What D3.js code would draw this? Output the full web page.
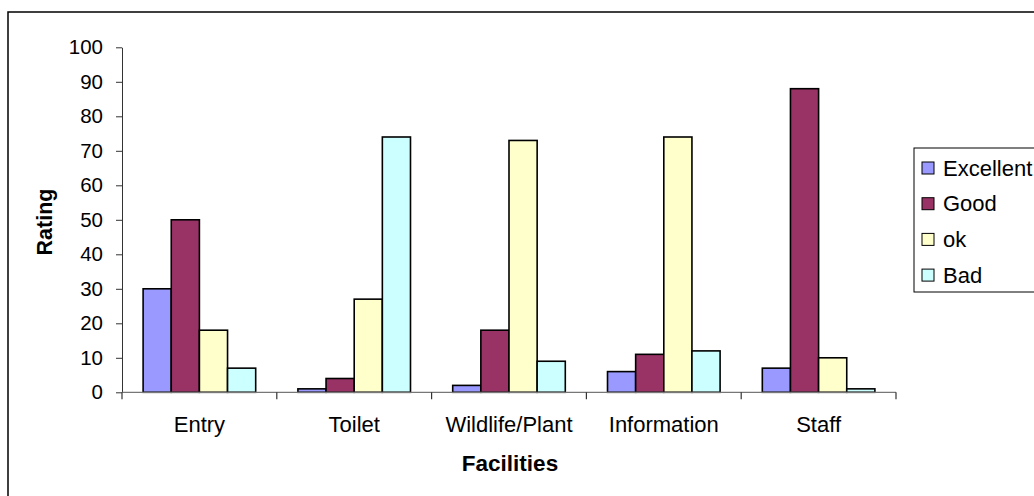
<!DOCTYPE html>
<html><head><meta charset="utf-8">
<script src="https://cdn.jsdelivr.net/npm/d3@7"></script>
<style>html,body{margin:0;padding:0;background:#fff;}svg{display:block;font-family:"Liberation Sans",Arial,sans-serif;}</style>
</head><body>
<svg id="c" width="1034" height="496"></svg>
<script>
const categories = ["Entry", "Toilet", "Wildlife/Plant", "Information", "Staff"];
const seriesNames = ["Excellent", "Good", "ok", "Bad"];
const excellent = [30, 1, 2, 6, 7];
const good = [50, 4, 18, 11, 88];
const ok = [18, 27, 73, 74, 10];
const bad = [7, 74, 9, 12, 1];
const yTicks = [0, 10, 20, 30, 40, 50, 60, 70, 80, 90, 100];
const colors = ["#9999FF", "#993366", "#FFFFCC", "#CCFFFF"];

(function () {
const seriesValues = [excellent, good, ok, bad];
const svg = d3.select("#c");

// outer border
svg.append("rect").attr("x", 8).attr("y", 12).attr("width", 1040).attr("height", 500)
  .attr("fill", "#fff").attr("stroke", "#000").attr("stroke-width", 1.5);

const pLeft = 122, pRight = 896, pTop = 47.3, pBottom = 392.3;
const x0 = d3.scaleBand().domain(categories).range([pLeft, pRight]).padding(0);
const x1 = d3.scaleBand().domain(seriesNames).range([0, x0.bandwidth()]).paddingInner(0).paddingOuter(0.75);
const y = d3.scaleLinear().domain([0, 100]).range([pBottom, pTop]);
const color = d3.scaleOrdinal().domain(seriesNames).range(colors);

// bars
const groups = svg.append("g").selectAll("g").data(categories).join("g")
  .attr("transform", d => `translate(${x0(d)},0)`);
groups.selectAll("rect").data((c, ci) => seriesNames.map((s, si) => ({s, v: seriesValues[si][ci]})))
  .join("rect")
  .attr("x", d => x1(d.s))
  .attr("y", d => y(d.v))
  .attr("width", x1.bandwidth())
  .attr("height", d => pBottom - y(d.v))
  .attr("fill", d => color(d.s))
  .attr("stroke", "#000").attr("stroke-width", 1.6);

// y axis
const yAxis = svg.append("g").attr("transform", `translate(${pLeft},0)`)
  .call(d3.axisLeft(y).tickValues(yTicks).tickSize(6).tickPadding(13).tickSizeOuter(0));
yAxis.select(".domain").attr("stroke", "#333");
yAxis.selectAll(".tick line").attr("stroke", "#333");
yAxis.selectAll("text").attr("font-size", 20.5).attr("fill", "#000")
  .attr("font-family", "Liberation Sans, Arial, sans-serif");

// x axis line + boundary ticks
const xg = svg.append("g");
xg.append("line").attr("x1", pLeft).attr("x2", pRight).attr("y1", pBottom).attr("y2", pBottom)
  .attr("stroke", "#777").attr("stroke-width", 1.2);
const bounds = categories.map(c => x0(c)).concat([x0(categories[categories.length - 1]) + x0.bandwidth()]);
xg.selectAll("line.tk").data(bounds).join("line").attr("class", "tk")
  .attr("x1", d => d).attr("x2", d => d).attr("y1", pBottom).attr("y2", pBottom + 7)
  .attr("stroke", "#333").attr("stroke-width", 1.2);
xg.selectAll("text").data(categories).join("text")
  .attr("x", d => x0(d) + x0.bandwidth() / 2).attr("y", 432)
  .attr("text-anchor", "middle").attr("font-size", 22).attr("fill", "#000").text(d => d);

// axis titles
svg.append("text").attr("x", 510).attr("y", 471).attr("text-anchor", "middle")
  .attr("font-size", 22.5).attr("font-weight", "bold").text("Facilities");
svg.append("text").attr("transform", "translate(52,222) rotate(-90)").attr("text-anchor", "middle")
  .attr("font-size", 21.5).attr("font-weight", "bold").text("Rating");

// legend
const lg = svg.append("g");
lg.append("rect").attr("x", 914).attr("y", 148).attr("width", 140).attr("height", 144)
  .attr("fill", "#fff").attr("stroke", "#000").attr("stroke-width", 1);
const li = lg.selectAll("g").data(seriesNames).join("g")
  .attr("transform", (d, i) => `translate(0,${168 + i * 35.7})`);
li.append("rect").attr("x", 922).attr("y", -6).attr("width", 12).attr("height", 12)
  .attr("fill", d => color(d)).attr("stroke", "#000").attr("stroke-width", 1);
li.append("text").attr("x", 943).attr("y", 0).attr("dy", "0.35em")
  .attr("font-size", 22).attr("fill", "#000").text(d => d);
})();
</script>
</body></html>
